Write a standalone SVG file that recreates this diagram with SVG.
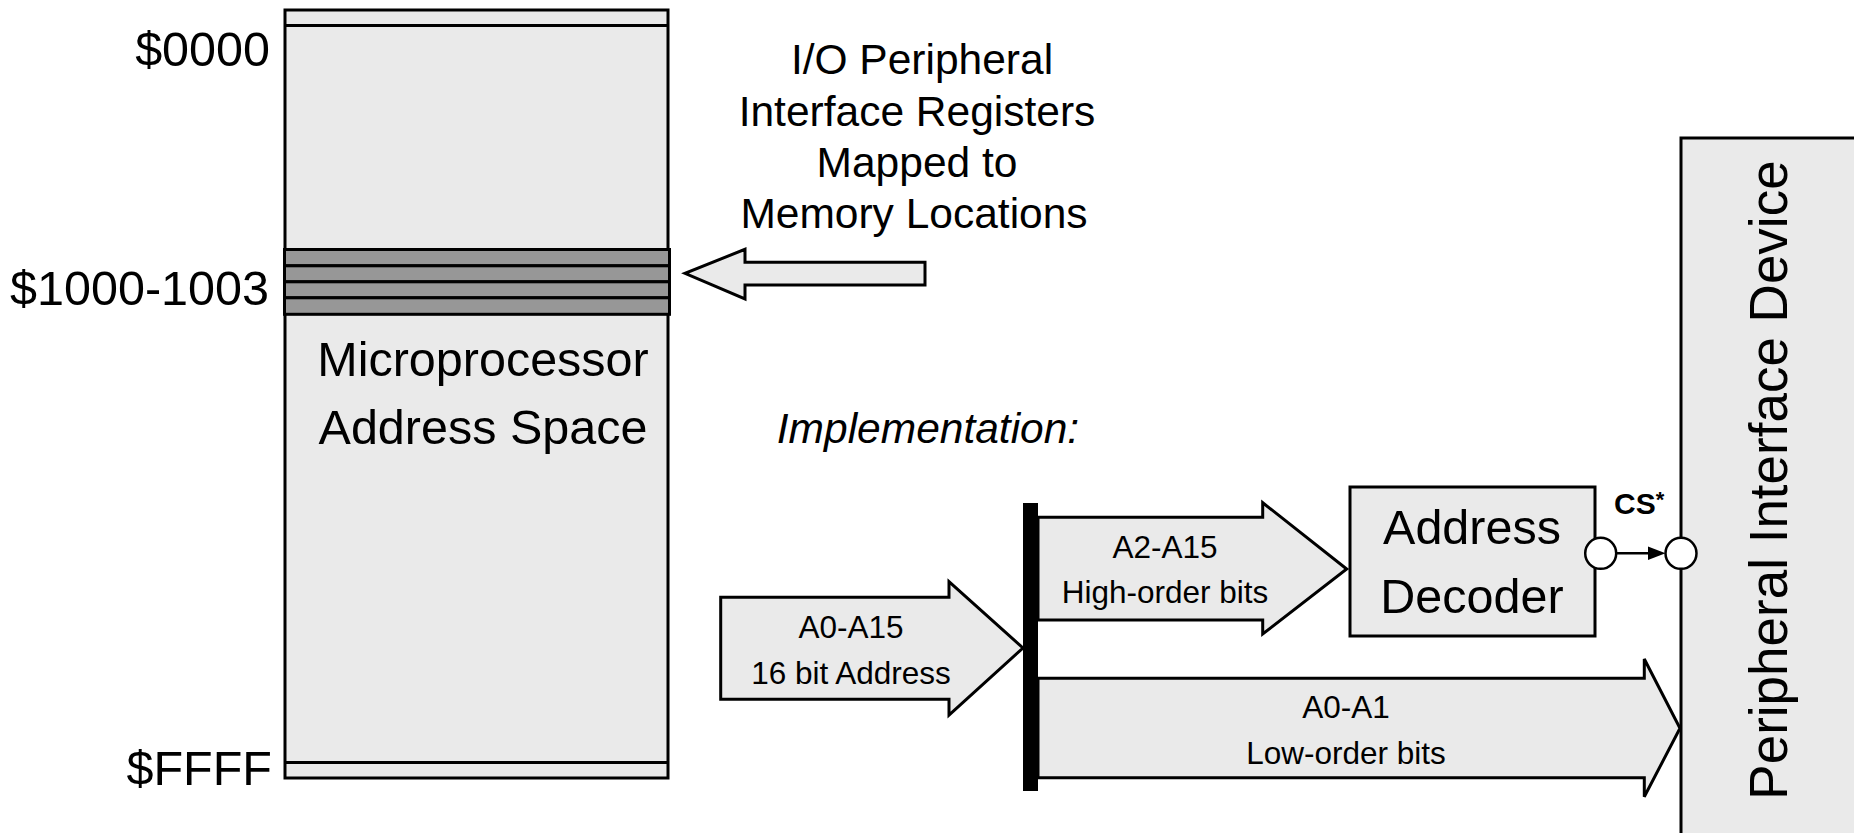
<svg xmlns="http://www.w3.org/2000/svg" width="1854" height="833" viewBox="0 0 1854 833">
<style>
text{font-family:"Liberation Sans",Arial,sans-serif;fill:#000}
.big{font-size:48.5px}
.mid{font-size:42.5px}
.sm{font-size:31.5px}
.box{fill:#eaeaea;stroke:#000;stroke-width:3}
.reg{fill:#979797;stroke:#000;stroke-width:3}
.arr{fill:#eaeaea;stroke:#000;stroke-width:3;stroke-linejoin:miter}
.pin{fill:#fff;stroke:#000;stroke-width:2.5}
</style>
<rect width="1854" height="833" fill="#fff"/>
<g id="memory-map">
<rect class="box" x="285" y="10" width="383" height="768"/>
<line x1="285" y1="25.5" x2="668" y2="25.5" stroke="#000" stroke-width="3"/>
<line x1="285" y1="762.5" x2="668" y2="762.5" stroke="#000" stroke-width="3"/>
<rect class="reg" x="284.5" y="249.5" width="385" height="16.3"/>
<rect class="reg" x="284.5" y="265.8" width="385" height="16"/>
<rect class="reg" x="284.5" y="281.8" width="385" height="16"/>
<rect class="reg" x="284.5" y="297.8" width="385" height="16.5"/>
<text class="big" x="270" y="66" text-anchor="end">$0000</text>
<text class="big" x="269" y="305" text-anchor="end" font-size="48">$1000-1003</text>
<text class="big" x="272" y="785" text-anchor="end">$FFFF</text>
<text class="big" x="483" y="376" text-anchor="middle" font-size="48">Microprocessor</text>
<text class="big" x="483" y="444" text-anchor="middle" font-size="48">Address Space</text>
</g>
<g id="io-label">
<text class="mid" x="922" y="74" text-anchor="middle">I/O Peripheral</text>
<text class="mid" x="917" y="126" text-anchor="middle">Interface Registers</text>
<text class="mid" x="917" y="177" text-anchor="middle">Mapped to</text>
<text class="mid" x="914" y="228" text-anchor="middle">Memory Locations</text>
</g>
<g id="impl-label">
<text class="mid" x="928" y="443" text-anchor="middle" font-style="italic">Implementation:</text>
</g>
<g id="peripheral">
<rect class="box" x="1681" y="138" width="240" height="760"/>
<text x="1787" y="480" text-anchor="middle" font-size="53" transform="rotate(-90 1787 480)">Peripheral Interface Device</text>
</g>
<g id="bus">
<rect x="1023" y="503" width="15" height="288" fill="#000"/>
</g>
<g id="decoder">
<rect class="box" x="1350" y="487" width="245" height="149"/>
<text class="big" x="1472" y="544" text-anchor="middle" font-size="47">Address</text>
<text class="big" x="1472" y="613" text-anchor="middle" font-size="47">Decoder</text>
</g>
<g id="connectors">
<polygon class="arr" points="925,262.3 745,262.3 745,249.3 685,273.3 745,299 745,285 925,285"/>
<g id="addr-in">
<polygon class="arr" points="720.7,597.3 949,597.3 949,581.7 1023,648 949,715 949,699.3 720.7,699.3"/>
<text class="sm" x="851" y="638" text-anchor="middle">A0-A15</text>
<text class="sm" x="851" y="684" text-anchor="middle">16 bit Address</text>
</g>
<g id="high-bits">
<polygon class="arr" points="1038,517.3 1262.7,517.3 1262.7,502.7 1346.7,569 1262.7,634 1262.7,620 1038,620"/>
<text class="sm" x="1165" y="558" text-anchor="middle">A2-A15</text>
<text class="sm" x="1165" y="603" text-anchor="middle">High-order bits</text>
</g>
<g id="low-bits">
<polygon class="arr" points="1038,678.3 1644.3,678.3 1644.3,659 1680,728.3 1644.3,796.7 1644.3,777.7 1038,777.7"/>
<text class="sm" x="1346" y="718" text-anchor="middle">A0-A1</text>
<text class="sm" x="1346" y="764" text-anchor="middle">Low-order bits</text>
</g>
<g id="cs">
<line x1="1616" y1="553.3" x2="1652" y2="553.3" stroke="#000" stroke-width="2.5"/>
<polygon points="1648,546.5 1665.5,553.3 1648,560" fill="#000"/>
<circle class="pin" cx="1600.7" cy="553.3" r="15.5"/>
<circle class="pin" cx="1681" cy="553.3" r="15.5"/>
<text x="1614" y="514" font-size="30" font-weight="bold">CS<tspan font-size="22" dy="-7">*</tspan></text>
</g>
</g>
</svg>
